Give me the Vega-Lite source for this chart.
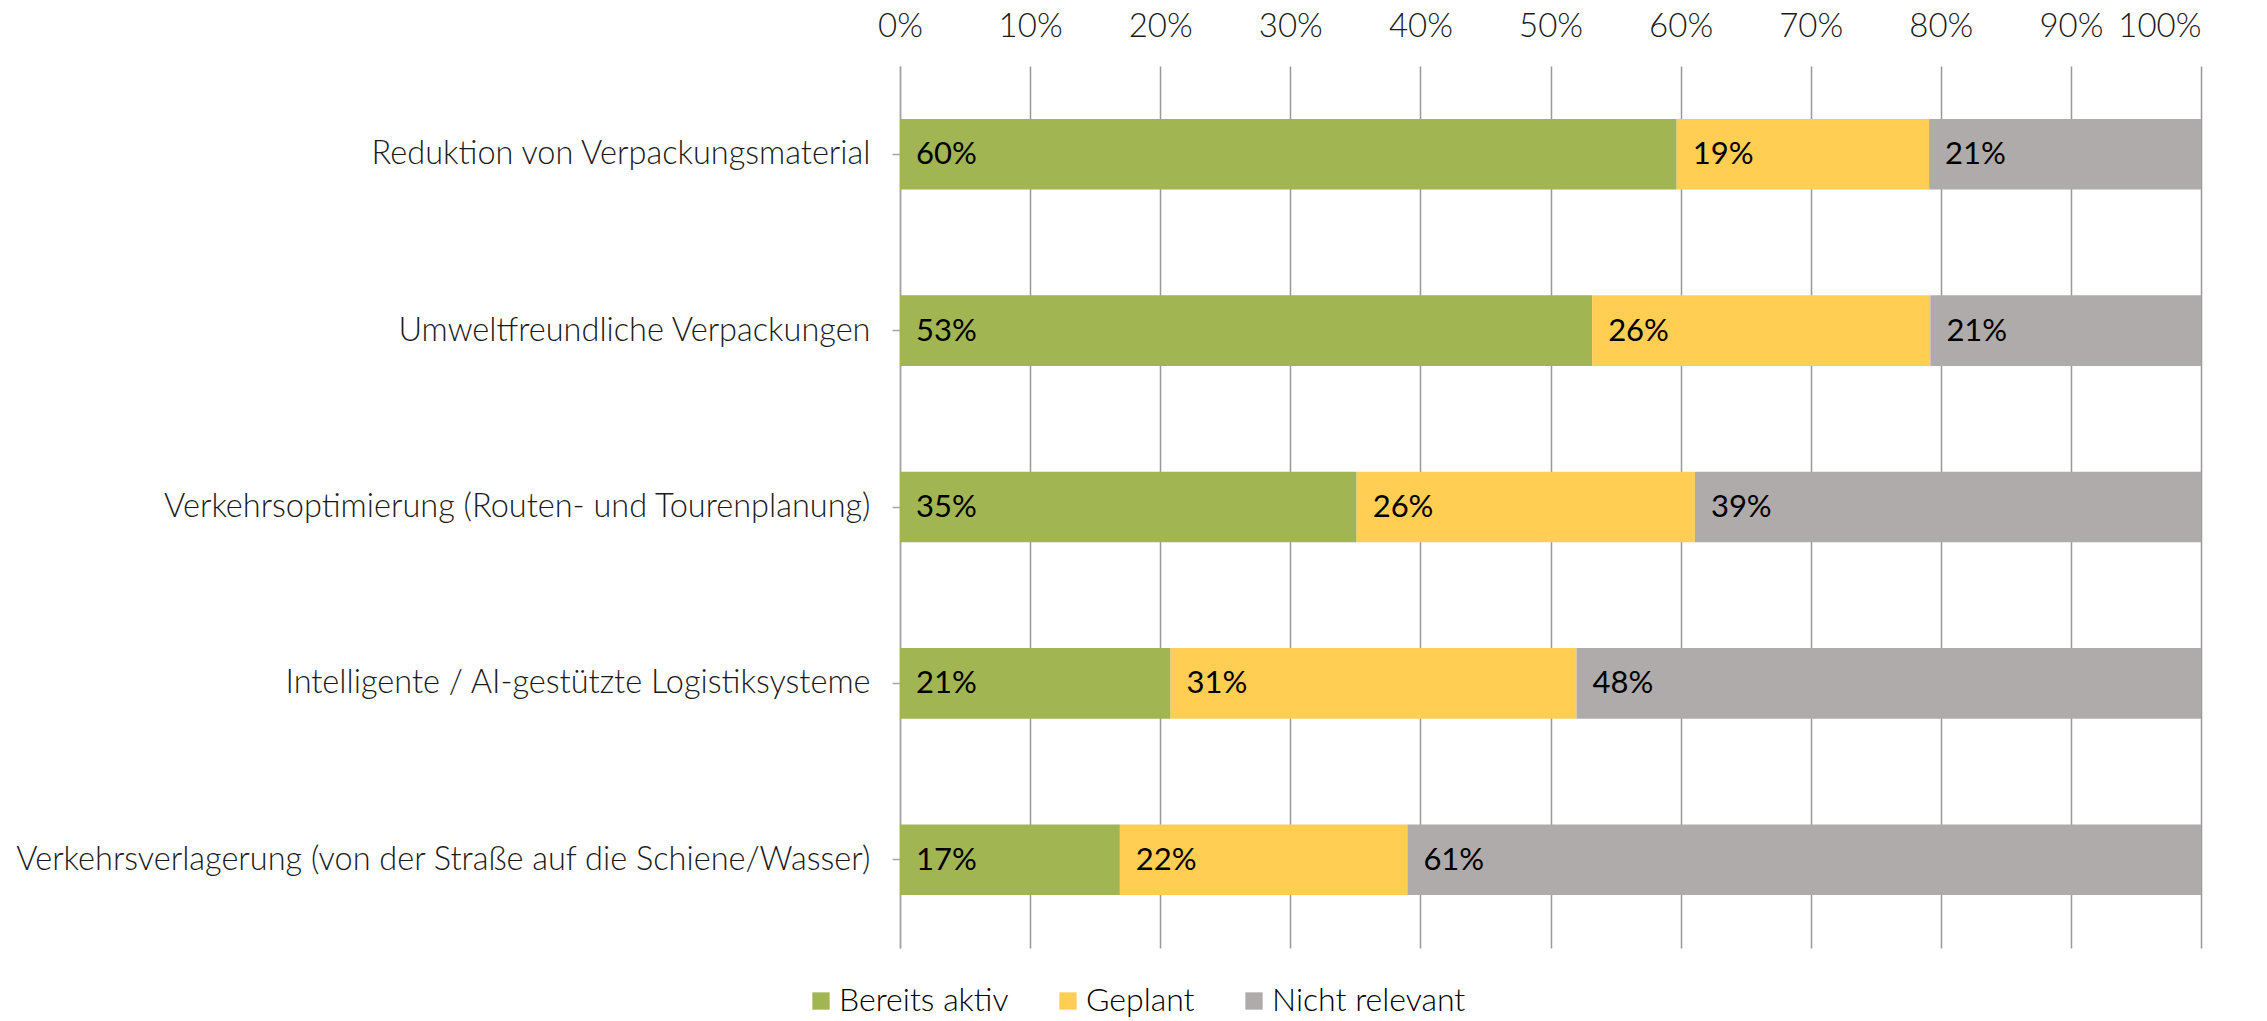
{
  "$schema": "https://vega.github.io/schema/vega-lite/v6.json",
  "width": 1301,
  "height": 882,
  "autosize": {"type": "none"},
  "padding": {"left": 900, "top": 66, "right": 66, "bottom": 73},
  "background": "white",
  "config": {
    "view": {"stroke": null},
    "font": "Lato"
  },
  "title": {
    "text": "n = 77",
    "orient": "bottom",
    "anchor": "start",
    "frame": "group",
    "dx": -925,
    "offset": 62,
    "baseline": "top",
    "font": "Lato",
    "fontWeight": 300,
    "fontSize": 32,
    "color": "#a6a6a6"
  },
  "data": {
    "values": [
      {"item": "Reduktion von Verpackungsmaterial", "status": "Bereits aktiv", "order": 1, "value": 0.597},
      {"item": "Reduktion von Verpackungsmaterial", "status": "Geplant", "order": 2, "value": 0.194},
      {"item": "Reduktion von Verpackungsmaterial", "status": "Nicht relevant", "order": 3, "value": 0.209},
      {"item": "Umweltfreundliche Verpackungen", "status": "Bereits aktiv", "order": 1, "value": 0.532},
      {"item": "Umweltfreundliche Verpackungen", "status": "Geplant", "order": 2, "value": 0.26},
      {"item": "Umweltfreundliche Verpackungen", "status": "Nicht relevant", "order": 3, "value": 0.208},
      {"item": "Verkehrsoptimierung (Routen- und Tourenplanung)", "status": "Bereits aktiv", "order": 1, "value": 0.351},
      {"item": "Verkehrsoptimierung (Routen- und Tourenplanung)", "status": "Geplant", "order": 2, "value": 0.26},
      {"item": "Verkehrsoptimierung (Routen- und Tourenplanung)", "status": "Nicht relevant", "order": 3, "value": 0.389},
      {"item": "Intelligente / AI-gestützte Logistiksysteme", "status": "Bereits aktiv", "order": 1, "value": 0.208},
      {"item": "Intelligente / AI-gestützte Logistiksysteme", "status": "Geplant", "order": 2, "value": 0.312},
      {"item": "Intelligente / AI-gestützte Logistiksysteme", "status": "Nicht relevant", "order": 3, "value": 0.48},
      {"item": "Verkehrsverlagerung (von der Straße auf die Schiene/Wasser)", "status": "Bereits aktiv", "order": 1, "value": 0.169},
      {"item": "Verkehrsverlagerung (von der Straße auf die Schiene/Wasser)", "status": "Geplant", "order": 2, "value": 0.221},
      {"item": "Verkehrsverlagerung (von der Straße auf die Schiene/Wasser)", "status": "Nicht relevant", "order": 3, "value": 0.61}
    ]
  },
  "transform": [
    {"stack": "value", "groupby": ["item"], "sort": [{"field": "order", "order": "ascending"}], "as": ["v0", "v1"]}
  ],
  "encoding": {
    "y": {
      "field": "item",
      "type": "nominal",
      "sort": null,
      "scale": {"paddingInner": 0.6, "paddingOuter": 0.3},
      "axis": {
        "title": null,
        "labelFont": "Lato",
        "labelFontWeight": 300,
        "labelFontSize": 32.5,
        "labelColor": "#1a1a1a",
        "labelPadding": 22,
        "labelLimit": 1000,
        "tickSize": 8,
        "tickColor": "#a6a6a6",
        "tickWidth": 1.5,
        "domainColor": "#a6a6a6",
        "domainWidth": 1.5
      }
    }
  },
  "layer": [
    {
      "mark": {"type": "bar"},
      "encoding": {
        "x": {
          "field": "v0",
          "type": "quantitative",
          "scale": {"domain": [0, 1], "nice": false},
          "axis": {
            "orient": "top",
            "title": null,
            "format": ".0%",
            "values": [0, 0.1, 0.2, 0.3, 0.4, 0.5, 0.6, 0.7, 0.8, 0.9, 1],
            "labelFlush": false,
            "labelAlign": {"expr": "datum.value >= 1 ? 'right' : 'center'"},
            "labelFont": "Lato",
            "labelFontWeight": 300,
            "labelFontSize": 33,
            "labelColor": "#1a1a1a",
            "labelPadding": 23,
            "ticks": false,
            "tickSize": 0,
            "domain": false,
            "grid": true,
            "gridColor": "#999999",
            "gridWidth": 1.5
          }
        },
        "x2": {"field": "v1"},
        "color": {
          "field": "status",
          "type": "nominal",
          "scale": {
            "domain": ["Bereits aktiv", "Geplant", "Nicht relevant"],
            "range": ["#a2b553", "#ffce53", "#afabaa"]
          },
          "legend": {
            "title": null,
            "orient": "none",
            "direction": "horizontal",
            "legendX": -95,
            "legendY": 919,
            "padding": 0,
            "symbolType": "square",
            "symbolSize": 300,
            "symbolStrokeWidth": 0,
            "labelFont": "Lato",
            "labelFontWeight": 300,
            "labelFontSize": 32,
            "labelColor": "#000000",
            "labelLimit": 500,
            "labelOffset": 2,
            "columnPadding": 43
          }
        }
      }
    },
    {
      "mark": {"type": "text", "align": "left", "baseline": "middle", "dx": 16, "dy": 1, "font": "Lato", "fontSize": 31, "color": "#000000"},
      "encoding": {
        "x": {"field": "v0", "type": "quantitative"},
        "text": {"field": "value", "type": "quantitative", "format": ".0%"}
      }
    }
  ]
}
